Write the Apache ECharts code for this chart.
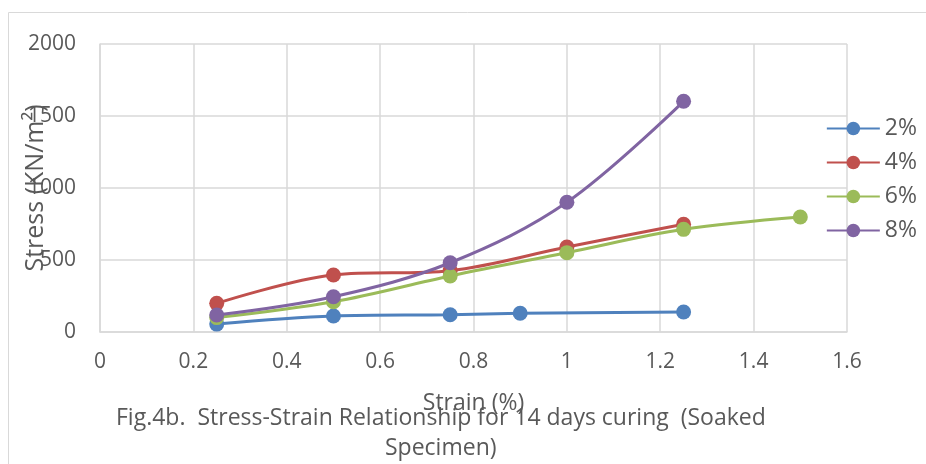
<!DOCTYPE html>
<html><head><meta charset="utf-8">
<script src="https://cdn.jsdelivr.net/npm/echarts@6/dist/echarts.min.js"></script>
<style>html,body{margin:0;padding:0;background:#fff}#c{width:926px;height:464px}</style>
</head><body><div id="c"></div>
<script>
const seriesNames = ['2%', '4%', '6%', '8%'];
const colors = ['#4f81bd', '#c0504d', '#9bbb59', '#8064a2'];
const strain2 = [0.25, 0.5, 0.75, 0.9, 1.25];
const stress2 = [55, 111, 120, 130, 139];
const strain4 = [0.25, 0.5, 0.75, 1.0, 1.25];
const stress4 = [199, 396, 426, 590, 748];
const strain6 = [0.25, 0.5, 0.75, 1.0, 1.25, 1.5];
const stress6 = [100, 210, 389, 551, 713, 799];
const strain8 = [0.25, 0.5, 0.75, 1.0, 1.25];
const stress8 = [118, 245, 481, 901, 1602];
const xTicks = [0, 0.2, 0.4, 0.6, 0.8, 1, 1.2, 1.4, 1.6];
const yTicks = [0, 500, 1000, 1500, 2000];

const pairs = [[strain2, stress2], [strain4, stress4], [strain6, stress6], [strain8, stress8]];
const font = '"Open Sans", "Liberation Sans", sans-serif';
const txt = '#595959';

const chart = echarts.init(document.getElementById('c'));
chart.setOption({
  animation: false,
  textStyle: { fontFamily: font },
  graphic: [
    { type: 'rect', shape: { x: 8.5, y: 12.5, width: 930, height: 470 }, style: { fill: 'none', stroke: '#d9d9d9', lineWidth: 1 }, z: -1 },
    { type: 'text', x: 116, y: 418, style: { text: 'Fig.4b.  Stress-Strain Relationship for 14 days curing  (Soaked', fontSize: 23, fontFamily: font, fill: txt, align: 'left', verticalAlign: 'middle' } },
    { type: 'text', x: 385, y: 448, style: { text: 'Specimen)', fontSize: 23, fontFamily: font, fill: txt, align: 'left', verticalAlign: 'middle' } }
  ],
  grid: { left: 100, right: 79, top: 44, bottom: 132, outerBoundsMode: 'none', containLabel: false },
  legend: {
    orient: 'vertical', right: 9, top: 117, itemGap: 11, padding: 0,
    itemWidth: 53, itemHeight: 17,
    data: seriesNames,
    textStyle: { fontSize: 23, color: txt, fontFamily: font }
  },
  xAxis: {
    type: 'value', min: xTicks[0], max: xTicks[xTicks.length - 1], interval: 0.2,
    name: 'Strain (%)', nameLocation: 'middle', nameGap: 60, nameMoveOverlap: false,
    nameTextStyle: { fontSize: 23, color: txt },
    axisLine: { show: true, lineStyle: { color: '#d9d9d9', width: 1.5 } },
    axisTick: { show: false },
    splitLine: { show: true, lineStyle: { color: '#d9d9d9', width: 1.5 } },
    axisLabel: { fontSize: 21, color: txt, margin: 20, formatter: v => String(+v.toFixed(1)) }
  },
  yAxis: {
    type: 'value', min: yTicks[0], max: yTicks[yTicks.length - 1], interval: 500,
    name: 'Stress (KN/m²)', nameLocation: 'middle', nameGap: 52, nameRotate: 90, nameMoveOverlap: false,
    nameTextStyle: { fontSize: 25, color: txt },
    axisLine: { show: true, lineStyle: { color: '#d9d9d9', width: 1.5 } },
    axisTick: { show: false },
    splitLine: { show: true, lineStyle: { color: '#d9d9d9', width: 1.5 } },
    axisLabel: { fontSize: 21, color: txt, margin: 24, formatter: v => String(v) }
  },
  series: seriesNames.map((n, i) => ({
    name: n, type: 'line', smooth: 0.35,
    data: pairs[i][0].map((x, k) => [x, pairs[i][1][k]]),
    symbol: 'circle', symbolSize: 15,
    lineStyle: { width: 3, color: colors[i] },
    itemStyle: { color: colors[i] }
  }))
});
</script></body></html>
